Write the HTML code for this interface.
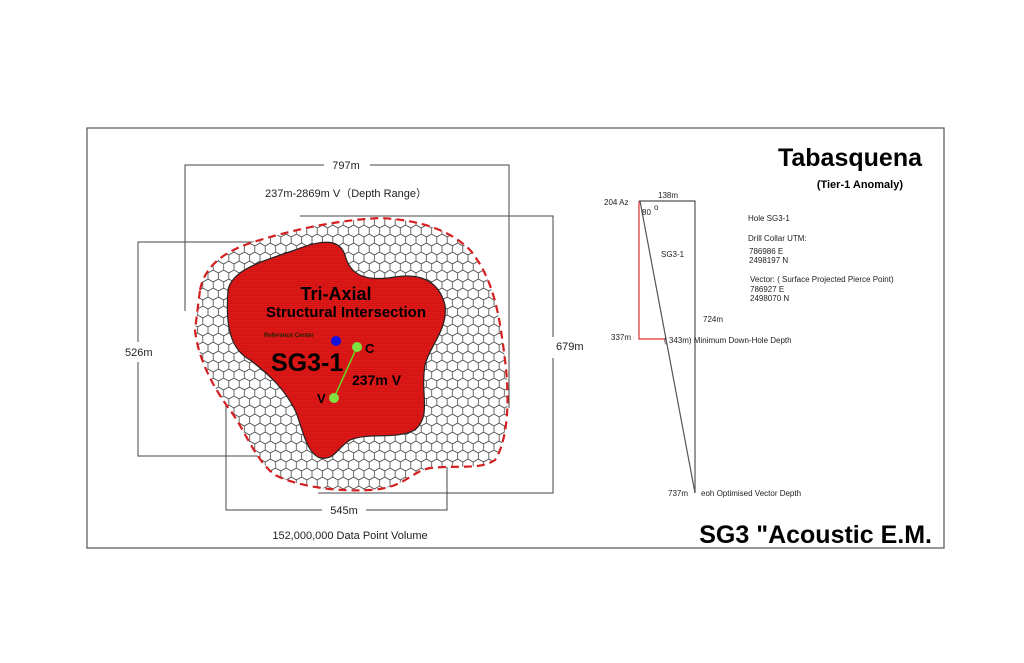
<!DOCTYPE html>
<html><head><meta charset="utf-8"><style>
html,body{margin:0;padding:0;background:#fff}
svg{display:block}
text{font-family:"Liberation Sans",Arial,sans-serif}
</style></head><body>
<svg width="1024" height="663" viewBox="0 0 1024 663" xmlns="http://www.w3.org/2000/svg">
<defs>
<pattern id="hex" width="10.4" height="18" patternUnits="userSpaceOnUse">
<path d="M5.2,0 L10.4,3 L10.4,9 L5.2,12 L0,9 L0,3 Z M5.2,12 L5.2,18" fill="none" stroke="#444" stroke-width="0.8"/>
</pattern>
<pattern id="lines" width="6" height="2" patternUnits="userSpaceOnUse">
<rect width="6" height="2" fill="#e01818"/><rect y="1" width="6" height="0.6" fill="#c41010"/>
</pattern>
</defs>
<rect x="87" y="128" width="857" height="420" fill="none" stroke="#555" stroke-width="1.2"/>
<g fill="none" stroke="#444" stroke-width="1">
<polyline points="185,311 185,165 324,165"/><polyline points="370,165 509,165 509,408"/>
<polyline points="300,216 553,216 553,337"/><polyline points="553,358 553,493 318,493"/>
<polyline points="330,242 138,242 138,342"/><polyline points="138,362 138,456 330,456"/>
<polyline points="226,337 226,510 322,510"/><polyline points="366,510 447,510 447,440"/>
</g>
<text x="346" y="169" font-size="11" text-anchor="middle" fill="#222">797m</text>
<text x="556" y="350" font-size="11" fill="#222">679m</text>
<text x="125" y="356" font-size="11" fill="#222">526m</text>
<text x="344" y="514" font-size="11" text-anchor="middle" fill="#222">545m</text>
<text x="346" y="197" font-size="11" text-anchor="middle" fill="#222">237m-2869m V（Depth Range）</text>
<text x="350" y="539" font-size="11" text-anchor="middle" fill="#222">152,000,000 Data Point Volume</text>
<path d="M200,290 C205,265 225,250 260,240 C300,228 340,220 380,218 C420,220 450,230 470,250 C495,280 500,320 505,360 C510,400 508,440 495,460 C480,470 460,465 430,468 C410,472 405,488 370,490 C330,492 295,485 275,475 C255,460 245,430 230,410 C215,390 198,360 195,330 Z" fill="#fff" stroke="none"/>
<path d="M200,290 C205,265 225,250 260,240 C300,228 340,220 380,218 C420,220 450,230 470,250 C495,280 500,320 505,360 C510,400 508,440 495,460 C480,470 460,465 430,468 C410,472 405,488 370,490 C330,492 295,485 275,475 C255,460 245,430 230,410 C215,390 198,360 195,330 Z" fill="url(#hex)" stroke="#d42020" stroke-width="2.2" stroke-dasharray="8,5"/>
<path d="M228,290 C232,270 260,262 295,250 C325,238 340,240 345,255 C350,275 365,282 395,277 C425,272 440,285 445,305 C448,330 430,345 425,365 C420,395 432,415 415,430 C395,440 370,432 350,440 C335,450 335,460 320,458 C305,452 302,425 295,410 C285,390 270,375 250,360 C232,350 225,330 228,290 Z" fill="url(#lines)" stroke="#222" stroke-width="1.2"/>
<text x="336" y="300" font-size="18" font-weight="bold" text-anchor="middle" fill="#000">Tri-Axial</text>
<text x="346" y="317" font-size="15" font-weight="bold" text-anchor="middle" fill="#000">Structural Intersection</text>
<text x="264" y="337" font-size="6" font-weight="bold" fill="#220">Reference Center</text>
<circle cx="336" cy="341" r="5" fill="#1010e0"/>
<text x="271" y="371" font-size="25" font-weight="bold" fill="#000">SG3-1</text>
<line x1="357" y1="347" x2="334" y2="398" stroke="#60e020" stroke-width="1.5"/>
<circle cx="357" cy="347" r="5" fill="#80e040"/>
<circle cx="334" cy="398" r="5" fill="#80e040"/>
<text x="365" y="353" font-size="13" font-weight="bold" fill="#000">C</text>
<text x="317" y="403" font-size="13" font-weight="bold" fill="#000">V</text>
<text x="352" y="385" font-size="14" font-weight="bold" fill="#000">237m V</text>
<text x="922" y="166" font-size="25" font-weight="bold" text-anchor="end" fill="#000">Tabasquena</text>
<text x="903" y="188" font-size="11" font-weight="bold" text-anchor="end" fill="#000">(Tier-1 Anomaly)</text>
<text x="932" y="543" font-size="25" font-weight="bold" text-anchor="end" fill="#000">SG3 "Acoustic E.M.</text>
<polyline points="639,201 639,339 665,339" fill="none" stroke="#e03030" stroke-width="1.2"/>
<polyline points="639,201 695,201 695,493" fill="none" stroke="#555" stroke-width="1.2"/>
<line x1="640" y1="201" x2="695" y2="493" stroke="#555" stroke-width="1.2"/>
<g font-size="8" fill="#222">
<text x="604" y="205">204 Az</text>
<text x="658" y="198">138m</text>
<text x="642" y="215">80</text><text x="654" y="210">o</text>
<text x="661" y="257">SG3-1</text>
<text x="703" y="322">724m</text>
<text x="611" y="340">337m</text>
<text x="664" y="343">( 343m)  Minimum Down-Hole Depth</text>
<text x="668" y="496">737m</text>
<text x="701" y="496">eoh  Optimised Vector Depth</text>
<text x="748" y="221">Hole SG3-1</text>
<text x="748" y="241">Drill Collar UTM:</text>
<text x="749" y="254">786986 E</text>
<text x="749" y="263">2498197 N</text>
<text x="750" y="282">Vector:  ( Surface Projected Pierce Point)</text>
<text x="750" y="292">786927 E</text>
<text x="750" y="301">2498070 N</text>
</g>
</svg>
</body></html>
